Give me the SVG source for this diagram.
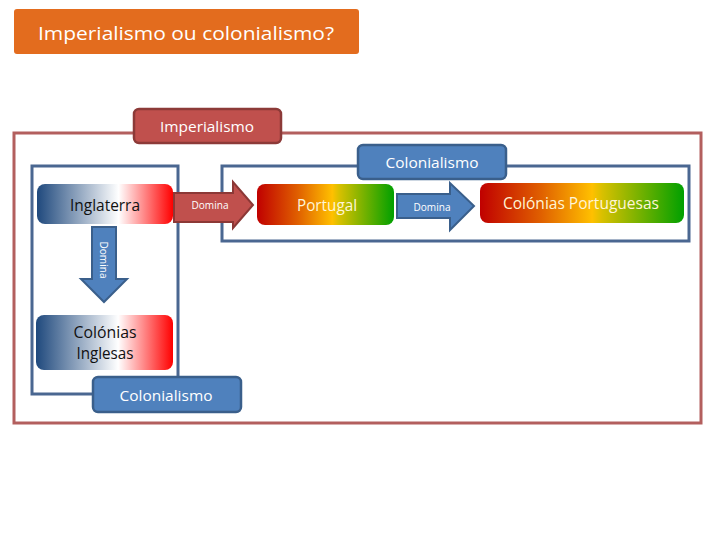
<svg xmlns="http://www.w3.org/2000/svg" width="720" height="540" viewBox="0 0 720 540">
<defs>
<linearGradient id="gBlueRed" x1="0" y1="0" x2="1" y2="0">
<stop offset="0" stop-color="#1F497D"/>
<stop offset="0.6" stop-color="#FFFFFF"/>
<stop offset="1" stop-color="#FF0000"/>
</linearGradient>
<linearGradient id="gRYG" x1="0" y1="0" x2="1" y2="0">
<stop offset="0" stop-color="#C00000"/>
<stop offset="0.3" stop-color="#E06000"/>
<stop offset="0.55" stop-color="#FFC000"/>
<stop offset="0.6" stop-color="#D8C000"/>
<stop offset="1" stop-color="#00A000"/>
</linearGradient>
<style>
text{font-family:"Open Sans","Noto Sans","Liberation Sans",sans-serif;text-anchor:middle}
.w{fill:#FFFFFF}
.k{fill:#111111}
.c{fill:#FFF5D6}
.lblR{fill:#C0504D;stroke:#8C3A38;stroke-width:2.5}
.lblB{fill:#4F81BD;stroke:#3A5F8B;stroke-width:2.5}
.frameB{fill:none;stroke:#4A6791;stroke-width:3}
.arrR{fill:#C0504D;stroke:#8C3836;stroke-width:2}
.arrB{fill:#4F81BD;stroke:#3A5F8B;stroke-width:2}
</style>
</defs>

<g id="title">
<rect x="14" y="9" width="345" height="45" rx="3" fill="#E36C1E"/>
<text x="186" y="40" font-size="19" class="w" textLength="296" lengthAdjust="spacingAndGlyphs">Imperialismo ou colonialismo?</text>
</g>

<g id="imperialismo-frame">
<rect x="14" y="133" width="687" height="290" fill="none" stroke="#B35F5E" stroke-width="3"/>
</g>

<g id="frame-inglaterra">
<rect x="32" y="166" width="146" height="228" class="frameB"/>
</g>
<g id="frame-portugal">
<rect x="222" y="166" width="467" height="75" class="frameB"/>
</g>

<g id="connectors">
<path class="arrR" d="M174,193 H233 V182 L253,205 L233,228 V222 H174 Z"/>
<text x="210" y="209" font-size="11" class="w" textLength="37" lengthAdjust="spacingAndGlyphs">Domina</text>
<path class="arrB" d="M397,194 H450 V183 L474,206 L450,230 V218 H397 Z"/>
<text x="432" y="211" font-size="11" class="w" textLength="37" lengthAdjust="spacingAndGlyphs">Domina</text>
<path class="arrB" d="M92,227 H116 V279 H127 L104,302 L81,279 H92 Z"/>
<text x="0" y="0" font-size="11" class="w" textLength="37" lengthAdjust="spacingAndGlyphs" transform="translate(100,260) rotate(90)">Domina</text>
</g>

<g id="label-imperialismo">
<rect x="134" y="109" width="147" height="34" rx="5" class="lblR"/>
<text x="207" y="132" font-size="15" class="w" textLength="94" lengthAdjust="spacingAndGlyphs">Imperialismo</text>
</g>

<g id="label-colonialismo-top">
<rect x="358" y="145" width="148" height="34" rx="5" class="lblB"/>
<text x="432" y="168" font-size="15" class="w" textLength="93" lengthAdjust="spacingAndGlyphs">Colonialismo</text>
</g>

<g id="label-colonialismo-bottom">
<rect x="93" y="377" width="148" height="35" rx="5" class="lblB"/>
<text x="166" y="401" font-size="15" class="w" textLength="93" lengthAdjust="spacingAndGlyphs">Colonialismo</text>
</g>

<g id="node-inglaterra">
<rect x="37" y="184" width="136" height="40" rx="8" fill="url(#gBlueRed)"/>
<text x="105" y="211" font-size="16" class="k" textLength="70" lengthAdjust="spacingAndGlyphs">Inglaterra</text>
</g>

<g id="node-colonias-inglesas">
<rect x="36" y="315" width="137" height="55" rx="8" fill="url(#gBlueRed)"/>
<text x="105" y="338" font-size="16" class="k" textLength="63" lengthAdjust="spacingAndGlyphs">Colónias</text>
<text x="105" y="359" font-size="16" class="k" textLength="57" lengthAdjust="spacingAndGlyphs">Inglesas</text>
</g>

<g id="node-portugal">
<rect x="257" y="184" width="137" height="41" rx="8" fill="url(#gRYG)"/>
<text x="327" y="211" font-size="16" class="c" textLength="60" lengthAdjust="spacingAndGlyphs">Portugal</text>
</g>

<g id="node-colonias-portuguesas">
<rect x="480" y="183" width="204" height="40" rx="8" fill="url(#gRYG)"/>
<text x="581" y="209" font-size="16" class="c" textLength="156" lengthAdjust="spacingAndGlyphs">Colónias Portuguesas</text>
</g>
</svg>
